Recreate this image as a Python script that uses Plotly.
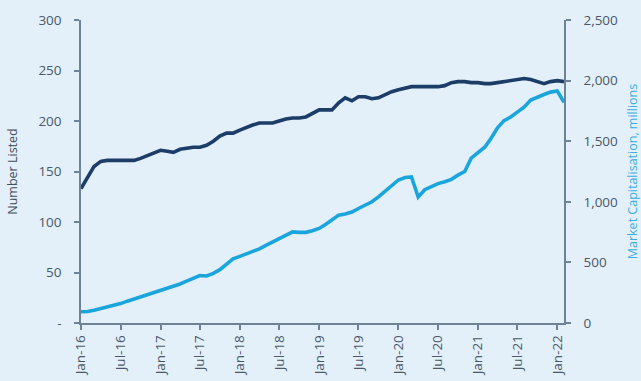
import pandas as pd
import plotly.graph_objects as go

# Monthly observations, Jan-2016 .. Feb-2022
months = pd.date_range("2016-01-01", periods=74, freq="MS")

number_listed = [133, 145, 155, 160, 161, 161, 161, 161, 161, 163,
                 166, 168, 171, 170, 169, 172, 173, 174, 174, 176,
                 180, 185, 188, 188, 191, 194, 196, 198, 198, 198,
                 200, 202, 203, 203, 204, 207, 211, 211, 211, 218,
                 223, 220, 224, 224, 222, 223, 226, 229, 231, 233,
                 234, 234, 234, 234, 234, 235, 238, 239, 239, 238,
                 238, 237, 237, 238, 239, 240, 241, 242, 241, 239,
                 237, 239, 240, 239]

market_cap = [93, 95, 105, 118, 130, 142, 160, 180, 198, 212,
              228, 245, 262, 280, 300, 322, 345, 368, 392, 388,
              410, 440, 490, 530, 550, 570, 592, 612, 640, 668,
              700, 722, 752, 748, 748, 762, 780, 815, 850, 890,
              900, 915, 945, 975, 1000, 1040, 1090, 1135, 1180, 1200,
              1205, 1040, 1100, 1125, 1150, 1165, 1185, 1220, 1250, 1360,
              1410, 1450, 1520, 1610, 1670, 1700, 1740, 1780, 1840, 1865,
              1885, 1905, 1915, 1820]

left_ticks = [0, 50, 100, 150, 200, 250, 300]
left_labels = ["-", "50", "100", "150", "200", "250", "300"]
right_ticks = [0, 500, 1000, 1500, 2000, 2500]
right_labels = ["0", "500", "1,000", "1,500", "2,000", "2,500"]

BG = "#E3F0F9"
AXIS = "#6F8398"
TXT = "#4A5869"
DARK = "#1B3D68"
LIGHT = "#1BA5DD"
FONT = "Open Sans"

fig = go.Figure()
fig.add_trace(go.Scatter(x=months, y=number_listed, mode="lines",
                         line=dict(color=DARK, width=3.6), yaxis="y",
                         name="Number Listed"))
fig.add_trace(go.Scatter(x=months, y=market_cap, mode="lines",
                         line=dict(color=LIGHT, width=3.6), yaxis="y2",
                         name="Market Capitalisation"))

fig.update_layout(
    template="none",
    width=641, height=381,
    margin=dict(l=81, r=77, t=20, b=58, autoexpand=False),
    paper_bgcolor=BG, plot_bgcolor=BG,
    showlegend=False,
    font=dict(family=FONT, size=13, color=TXT),
    xaxis=dict(
        type="date", automargin=False,
        range=[months[0], months[-1]],
        tickmode="linear", tick0="2016-01-01", dtick="M6",
        tickformat="%b-%y", tickangle=-90,
        showgrid=False, zeroline=False,
        showline=True, linecolor=AXIS, linewidth=1.5,
        ticks="outside", ticklen=5, tickcolor=AXIS, tickwidth=1.5,
        tickfont=dict(size=13.5, color=TXT),
    ),
    yaxis=dict(
        range=[0, 300], automargin=False,
        tickvals=left_ticks, ticktext=left_labels,
        showgrid=False, zeroline=False,
        showline=True, linecolor=AXIS, linewidth=1.5,
        ticks="outside", ticklen=5, tickcolor=AXIS, tickwidth=1.5,
        ticklabelstandoff=10,
        tickfont=dict(size=13.5, color=TXT),
        title=dict(text="Number Listed", font=dict(size=12.5, color="#3F4D5E"),
                   standoff=18),
    ),
    yaxis2=dict(
        range=[0, 2500], overlaying="y", side="right", automargin=False,
        tickvals=right_ticks, ticktext=right_labels,
        showgrid=False, zeroline=False,
        showline=True, linecolor=AXIS, linewidth=1.5,
        ticks="outside", ticklen=5, tickcolor=AXIS, tickwidth=1.5,
        ticklabelstandoff=10,
        tickfont=dict(size=13.5, color=TXT),
        title=dict(text="Market Capitalisation, millions",
                   font=dict(size=12.5, color="#3AAEDF"), standoff=13),
    ),
)

fig.write_html(
    "out.html",
    config={"displayModeBar": False},
    post_script="document.body.style.margin='0';document.body.style.overflow='hidden';",
)
